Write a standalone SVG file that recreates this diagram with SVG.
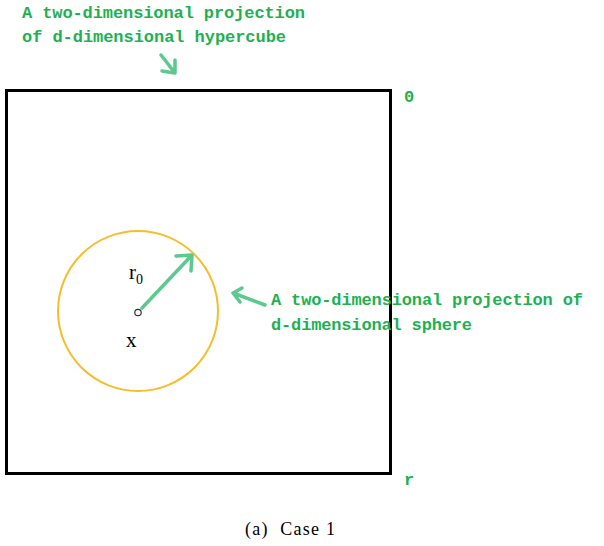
<svg xmlns="http://www.w3.org/2000/svg" width="604" height="546" viewBox="0 0 604 546">
<style>
.lbl{font-family:"Liberation Mono","DejaVu Sans Mono",monospace;font-weight:bold;font-size:17px;fill:#1DB152}
.ser{font-family:"Liberation Serif","Times New Roman",serif;fill:#000}
.conn{stroke:#5CC98E;stroke-width:3.5;fill:none;stroke-linecap:round;stroke-linejoin:round}
</style>
<rect width="604" height="546" fill="#fff"/>
<g id="hypercube">
<rect x="6.5" y="90.5" width="384" height="383" fill="none" stroke="#000" stroke-width="3"/>
</g>
<g id="sphere">
<circle cx="138" cy="311" r="80" fill="none" stroke="#F6BE2C" stroke-width="2"/>
<circle cx="138" cy="312.5" r="3.2" fill="#fff" stroke="#333" stroke-width="1.2"/>
</g>
<g id="connectors">
<path class="conn" d="M142,308 L192,255 M176,256 L192,255 L191,271"/>
<path class="conn" d="M161,55 L175,73 M175,60 L175,73 L162,71"/>
<path class="conn" d="M265,305 L233,293 M242,288 L233,293 L240,302"/>
</g>
<g id="labels">
<text class="lbl" x="22" y="18" textLength="283">A two-dimensional projection</text>
<text class="lbl" x="22" y="42" textLength="264">of d-dimensional hypercube</text>
<text class="lbl" x="271" y="305" textLength="312">A two-dimensional projection of</text>
<text class="lbl" x="271" y="330" textLength="201">d-dimensional sphere</text>
<text class="lbl" x="404" y="102">0</text>
<text class="lbl" x="404" y="485">r</text>
<text class="ser" x="129" y="279" font-size="21">r<tspan font-size="14" dy="5">0</tspan></text>
<text class="ser" x="126" y="347" font-size="21">x</text>
<text class="ser" x="245" y="535" font-size="18" xml:space="preserve" textLength="90">(a)  Case 1</text>
</g>
</svg>
